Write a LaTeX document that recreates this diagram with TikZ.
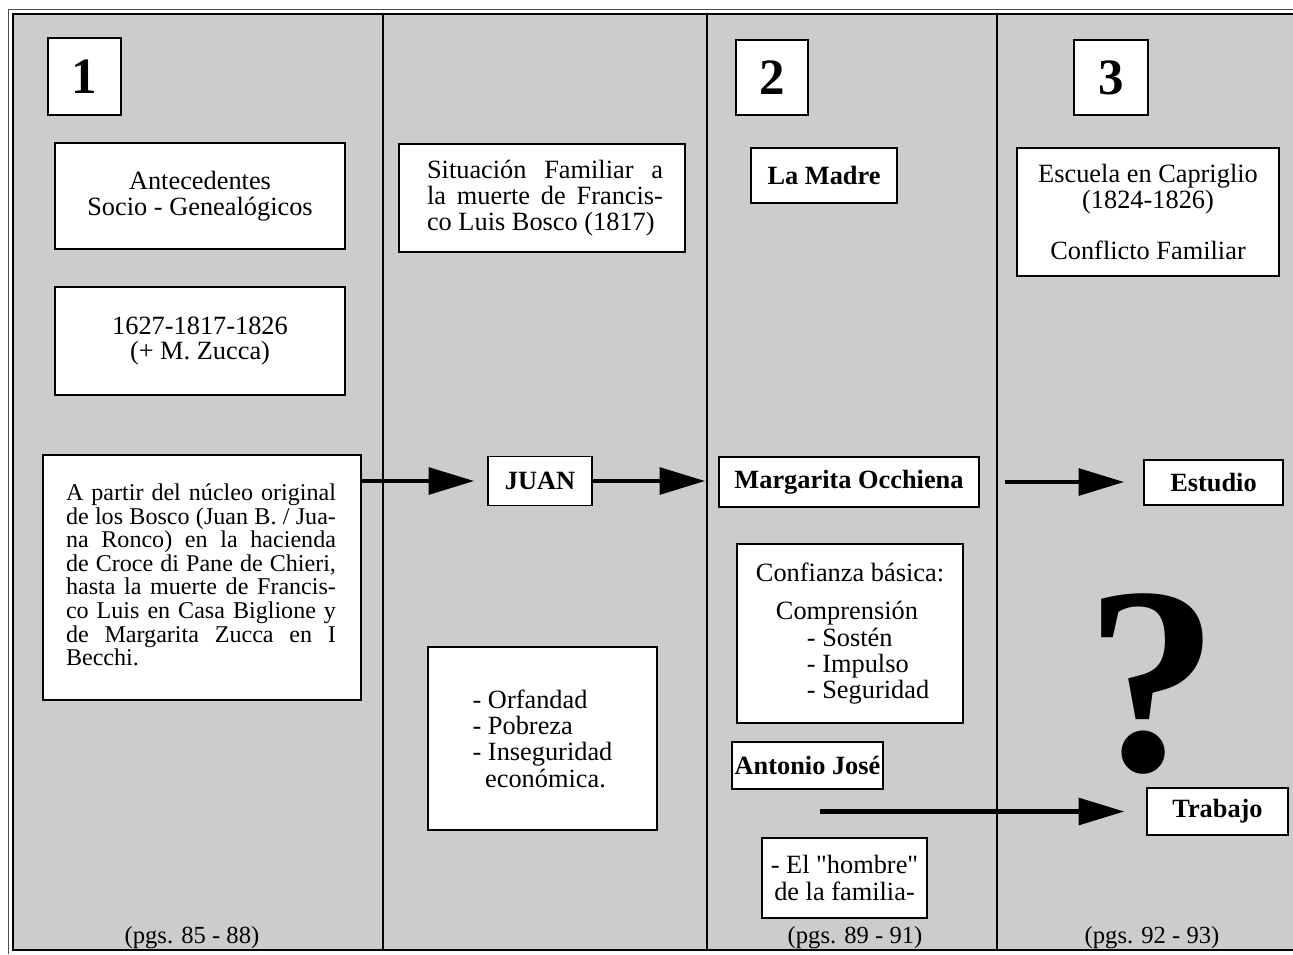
\documentclass[tikz,border=0pt]{standalone}
\usepackage{fontspec}
\setmainfont{Liberation Serif}
\newfontfamily\plainquotes{Liberation Serif}[Ligatures=TeXOff]
\usetikzlibrary{arrows.meta}
\begin{document}
\begin{tikzpicture}[x=0.02cm,y=-0.02cm,
  box/.style={draw=black,line width=0.8pt,fill=white,inner sep=0pt,align=center,font=\fontsize{15}{15}\selectfont},
  bbox/.style={box,font=\fontsize{15}{15}\selectfont\bfseries},
  numbox/.style={box,font=\fontsize{29}{29}\selectfont\bfseries},
  flow/.style={line width=2.8pt,-{Triangle[length=26pt,width=15pt]}},
  divider/.style={line width=0.7pt},
  pgs/.style={font=\fontsize{14}{14}\selectfont,inner sep=0pt}]
\useasboundingbox (0,0) rectangle (1293,954);
\fill[white] (0,0) rectangle (1293,954);
\fill[black!20] (13,14) rectangle (1293,950);
\draw[line width=0.5pt,black!70] (8,954) -- (8,9) -- (1293,9);
\draw[line width=0.9pt] (1293,950) -- (13,950) -- (13,14) -- (1293,14);
\draw[divider] (383,14) -- (383,950);
\draw[divider] (707,14) -- (707,950);
\draw[divider] (997,14) -- (997,950);

% column 1
\node[numbox,minimum width=1.46cm,minimum height=1.54cm] (n1) at (84.5,76.5) {1};
\node[box,minimum width=5.8cm,minimum height=2.12cm] (antec) at (200,196)
  {Antecedentes\\Socio - Genealógicos};
\node[box,minimum width=5.8cm,minimum height=2.16cm,font=\fontsize{15}{13.8}\selectfont] (years) at (200,341)
  {1627-1817-1826\\(+ M. Zucca)};
\node[draw=black,line width=0.8pt,fill=white,minimum width=6.36cm,minimum height=4.9cm] (apartir) at (202,577.5) {};
\node[inner sep=0pt,text width=5.4cm,align=justify,font=\fontsize{13.7}{13.4}\selectfont] (apartirtxt) at (201,575)
  {\hyphenpenalty=10000 \tolerance=10000 A partir del núcleo original\linebreak de los Bosco (Juan B. / Jua-\linebreak na Ronco) en la hacienda\linebreak de Croce di Pane de Chieri,\linebreak hasta la muerte de Francis-\linebreak co Luis en Casa Biglione y\linebreak de Margarita Zucca en I\linebreak Becchi.};
\node[pgs] (pgs1) at (192,938) {(pgs. 85 - 88)};

% column 2
\node[draw=black,line width=0.8pt,fill=white,minimum width=5.72cm,minimum height=2.16cm] (situ) at (542,198) {};
\node[inner sep=0pt,text width=4.72cm,align=justify,font=\fontsize{15}{15}\selectfont] (situtxt) at (545,198)
  {\hyphenpenalty=10000 \tolerance=10000 Situación Familiar a\linebreak la muerte de Francis-\linebreak co Luis Bosco (1817)};
\node[bbox,minimum width=2.08cm,minimum height=0.98cm] (juan) at (540,481) {JUAN};
\node[box,align=left,minimum width=4.58cm,minimum height=3.66cm] (orfa) at (542.5,738.5)
  {- Orfandad\\- Pobreza\\- Inseguridad\\\hspace*{0.25cm}económica.};

% column 3
\node[numbox,minimum width=1.44cm,minimum height=1.5cm] (n2) at (772,77.5) {2};
\node[bbox,minimum width=2.92cm,minimum height=1.1cm] (madre) at (824,175.5) {La Madre};
\node[bbox,minimum width=5.2cm,minimum height=1.0cm] (marg) at (849,482) {Margarita Occhiena};
\node[box,align=left,minimum width=4.52cm,minimum height=3.58cm] (confi) at (850,633.5)
  {Confianza básica:\\[7pt]\hspace*{0.4cm}Comprensión\\\hspace*{1.02cm}- Sostén\\\hspace*{1.02cm}- Impulso\\\hspace*{1.02cm}- Seguridad};
\node[bbox,minimum width=3.02cm,minimum height=0.94cm] (antonio) at (807.5,765.5) {Antonio José};
\node[box,minimum width=3.3cm,minimum height=1.6cm,font=\plainquotes\fontsize{15}{15}\selectfont] (hombre) at (844.5,878)
  {- El "hombre"\\de la familia-};
\node[pgs] (pgs2) at (855,938) {(pgs. 89 - 91)};

% column 4
\node[numbox,minimum width=1.48cm,minimum height=1.5cm] (n3) at (1111,77.5) {3};
\node[box,minimum width=5.24cm,minimum height=2.56cm,font=\fontsize{15}{13.6}\selectfont] (escuela) at (1148,212)
  {Escuela en Capriglio\\(1824-1826)\\[14pt]Conflicto Familiar};
\node[bbox,minimum width=2.78cm,minimum height=0.9cm] (estudio) at (1213.5,482.5) {Estudio};
\node[font=\fontsize{152}{152}\selectfont\bfseries,anchor=base,inner sep=0pt,text depth=0pt,text height=3.4cm] (qm) at (1152,770) {?};
\node[bbox,minimum width=2.82cm,minimum height=0.94cm] (trabajo) at (1217.5,811.5) {Trabajo};
\node[pgs] (pgs3) at (1152,938) {(pgs. 92 - 93)};

% connectors
\draw[flow,shorten >=0.26cm] (apartir.east |- juan.west) -- (juan.west);
\draw[flow,shorten >=0.26cm] (juan.east) -- (juan.east -| marg.west);
\draw[flow,shorten <=0.5cm,shorten >=0.38cm] (marg.east) -- (marg.east -| estudio.west);
\coordinate (t0) at (820,811.5);
\draw[flow,shorten >=0.44cm] (t0) -- (trabajo.west);
\end{tikzpicture}
\end{document}
